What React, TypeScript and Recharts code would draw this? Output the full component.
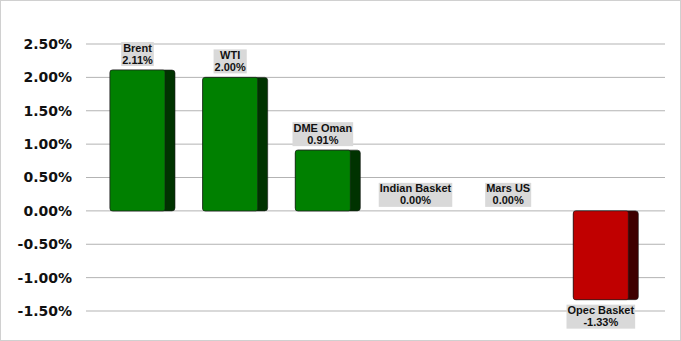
import React from "react";
import { BarChart, Bar, XAxis, YAxis, CartesianGrid, LabelList } from "recharts";

const categories = ["Brent", "WTI", "DME Oman", "Indian Basket", "Mars US", "Opec Basket"];
const changes = [2.11, 2.0, 0.91, 0.0, 0.0, -1.33];
const yTicks = [-1.5, -1.0, -0.5, 0.0, 0.5, 1.0, 1.5, 2.0, 2.5];

const data = categories.map((name, i) => ({ name, value: changes[i] }));

const SIDE = 10;
const LABEL_FONT = "bold 11px 'Liberation Sans', Arial, sans-serif";

let ctx: CanvasRenderingContext2D | null = null;
function textWidth(s: string) {
  if (!ctx) ctx = document.createElement("canvas").getContext("2d");
  if (!ctx) return s.length * 6;
  ctx.font = LABEL_FONT;
  return ctx.measureText(s).width;
}

function Bar3D(props: any) {
  const { x, y, width, height, value } = props;
  if (!height || Math.abs(height) < 0.5) return <g />;
  const top = height < 0 ? y + height : y;
  const h = Math.abs(height);
  const front = value < 0 ? "#c00000" : "#008000";
  const side = value < 0 ? "#3f0000" : "#003300";
  return (
    <g>
      <rect x={x} y={top} width={width} height={h} rx={3} fill={side} stroke="#1c1c1c" strokeWidth={0.6} />
      <rect x={x} y={top} width={width - SIDE} height={h} rx={2} fill={front} stroke="#1c1c1c" strokeWidth={0.6} />
    </g>
  );
}

function BarLabel(props: any) {
  const { x, y, width, height, index } = props;
  const v = changes[index];
  const name = categories[index];
  const pct = v.toFixed(2) + "%";
  const cx = x + (width - SIDE) / 2;
  const w = Math.max(textWidth(name), textWidth(pct)) + 2;
  const boxH = 24;
  const barTop = Math.min(y, y + height);
  const barBottom = Math.max(y, y + height);
  const boxTop = v < 0 ? barBottom + 5 : barTop - 4 - boxH;
  return (
    <g>
      <rect x={cx - w / 2} y={boxTop} width={w} height={boxH} fill="#d9d9d9" />
      <text x={cx} y={boxTop + 9.5} textAnchor="middle" style={{ font: LABEL_FONT }} fill="#111">
        {name}
      </text>
      <text x={cx} y={boxTop + 21.5} textAnchor="middle" style={{ font: LABEL_FONT }} fill="#111">
        {pct}
      </text>
    </g>
  );
}

export default function App() {
  return (
    <div style={{ position: "relative", width: 681, height: 341, background: "#fff" }}>
      <style>{"body{margin:0}"}</style>
      <BarChart
        width={681}
        height={341}
        data={data}
        margin={{ top: 44, right: 16, bottom: 30, left: 0 }}
      >
        <CartesianGrid vertical={false} stroke="#b3b3b3" strokeWidth={1} />
        <XAxis dataKey="name" hide padding={{ left: 10, right: 13 }} />
        <YAxis
          type="number"
          domain={[-1.5, 2.5]}
          ticks={yTicks}
          width={86}
          axisLine={false}
          tickLine={false}
          tickSize={0}
          tickMargin={14}
          tickFormatter={(v: number) => v.toFixed(2) + "%"}
          tick={{ fill: "#111", fontSize: 14, fontWeight: 700, fontFamily: "'DejaVu Sans', Verdana, sans-serif" }}
        />
        <Bar dataKey="value" barSize={65} shape={<Bar3D />} isAnimationActive={false}>
          <LabelList dataKey="value" content={<BarLabel />} />
        </Bar>
      </BarChart>
      <div
        style={{
          position: "absolute",
          inset: 0,
          border: "1px solid #d0d0d0",
          pointerEvents: "none",
        }}
      />
    </div>
  );
}
